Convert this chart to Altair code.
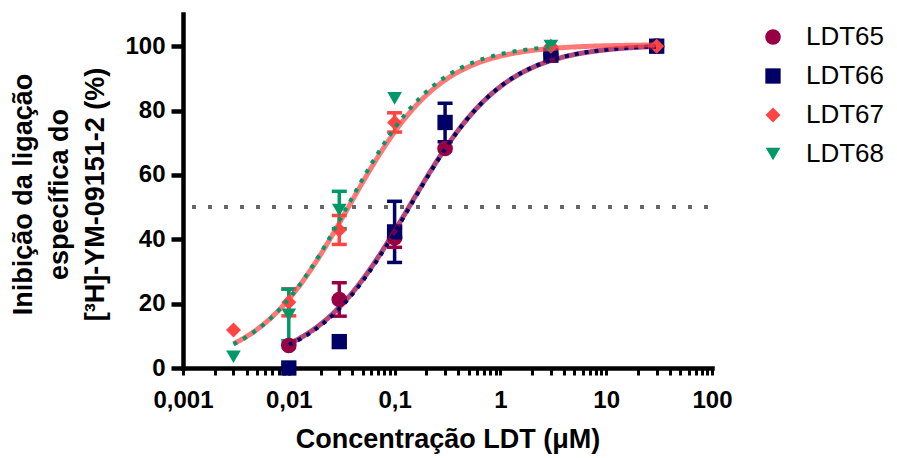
import math
import altair as alt
import pandas as pd

# Compounds, their colours and marker shapes
series = ["LDT65", "LDT66", "LDT67", "LDT68"]
colors = ["#990044", "#000066", "#ff4444", "#009966"]
shapes = ["circle", "square", "diamond", "triangle-down"]
sizes = [245, 215, 380, 250]

# Concentrations tested (µM)
conc = [0.003, 0.01, 0.03, 0.1, 0.3, 3, 30]

# Mean inhibition (%) and error per concentration (None = not tested)
ldt65_mean = [None, 7.0, 21.3, 40.5, 68.2, 97.5, 100.0]
ldt65_err = [0, 0, 5.2, 3.0, 0, 0, 0]
ldt66_mean = [None, 0.0, 8.2, 42.3, 76.3, 97.2, 100.0]
ldt66_err = [0, 0, 0, 9.5, 6.0, 0, 0]
ldt67_mean = [11.8, 20.4, 42.9, 76.3, None, 100.0, 100.0]
ldt67_err = [0, 4.2, 4.5, 3.0, 0, 0, 0]
ldt68_mean = [3.5, 16.5, 49.1, 83.8, None, 100.0, None]
ldt68_err = [0, 8.0, 5.8, 0, 0, 0, 0]

# Sigmoidal dose-response fit parameters
fit_bottom = [0.0, 0.0, 0.0, 0.0]
fit_top = [100.5, 100.5, 100.5, 100.8]
fit_ic50 = [0.138, 0.140, 0.037, 0.036]
fit_hill = [0.96, 0.97, 1.00, 1.02]
fit_start = [0.01, 0.01, 0.003, 0.003]
fit_end = [30, 30, 30, 3]

# Axes
x_min, x_max = 0.001, 100
decades = [0.001, 0.01, 0.1, 1, 10, 100]
decade_labels = ["0,001", "0,01", "0,1", "1", "10", "100"]
y_ticks = [0, 20, 40, 60, 80, 100]
half_line = 50

means = [ldt65_mean, ldt66_mean, ldt67_mean, ldt68_mean]
errs = [ldt65_err, ldt66_err, ldt67_err, ldt68_err]
rows = []
for name, m_list, e_list in zip(series, means, errs):
    for c, m, e in zip(conc, m_list, e_list):
        if m is not None:
            rows.append({"series": name, "conc": c, "mean": m, "err": e})
points = pd.DataFrame(rows)

x_ticks = []
for d in decades[:-1]:
    x_ticks.append(d)
    x_ticks.extend(d * k for k in range(2, 10))
x_ticks.append(decades[-1])

label_expr = "''"
for v, lab in reversed(list(zip(decades, decade_labels))):
    label_expr = f"datum.value == {v} ? '{lab}' : ({label_expr})"

x_scale = alt.Scale(type="log", domain=[x_min, x_max], nice=False)
y_scale = alt.Scale(domain=[0, 110], nice=False)
color_scale = alt.Scale(domain=series, range=colors)
shape_scale = alt.Scale(domain=series, range=shapes)
size_scale = alt.Scale(domain=series, range=sizes)

x_axis = alt.Axis(
    values=x_ticks, labelExpr=label_expr, title="Concentração LDT (μM)",
    tickSize=7, tickWidth=3, labelPadding=13, titleY=79,
    titleBaseline="alphabetic", labelFlush=False, labelOverlap=False,
)
y_axis = alt.Axis(
    values=y_ticks,
    title=["Inibição da ligação", "específica do", "[³H]-YM-09151-2 (%)"],
    tickSize=12, tickWidth=4.5, labelPadding=6, titleX=-173, titleY=180,
    titleBaseline="top", titleAlign="center", titleAngle=-90,
    titleLineHeight=36,
)

X = alt.X("conc:Q", scale=x_scale, axis=x_axis)
Y = alt.Y("mean:Q", scale=y_scale, axis=y_axis)

# Dotted line marking 50 % inhibition
ref_df = pd.DataFrame({"x": [x_min], "x2": [x_max], "y": [half_line]})
half = alt.Chart(ref_df).mark_rule(
    color="#666666", strokeWidth=4, strokeDash=[4, 12], strokeDashOffset=7
).encode(
    x=alt.X("x:Q", scale=x_scale, axis=x_axis),
    x2="x2:Q",
    y=alt.Y("y:Q", scale=y_scale, axis=y_axis),
)

# Error bars with caps
bars = alt.Chart(points).transform_filter("datum.err > 0").transform_calculate(
    lo="datum.mean - datum.err", hi="datum.mean + datum.err"
)
color_enc = alt.Color("series:N", scale=color_scale, title=None)
err_rule = bars.mark_rule(strokeWidth=3.5, opacity=1).encode(
    x=X, y=alt.Y("lo:Q", scale=y_scale, axis=y_axis), y2="hi:Q", color=color_enc
)
cap_lo = bars.mark_tick(orient="horizontal", size=15, thickness=3.5, opacity=1).encode(
    x=X, y=alt.Y("lo:Q", scale=y_scale, axis=y_axis), color=color_enc
)
cap_hi = bars.mark_tick(orient="horizontal", size=15, thickness=3.5, opacity=1).encode(
    x=X, y=alt.Y("hi:Q", scale=y_scale, axis=y_axis), color=color_enc
)

marks = alt.Chart(points).mark_point(filled=True, opacity=1, strokeWidth=0).encode(
    x=X, y=Y,
    color=color_enc,
    shape=alt.Shape("series:N", scale=shape_scale, title=None),
    size=alt.Size("series:N", scale=size_scale, title=None),
)

# Fitted dose-response curves
curve_styles = [
    dict(color="#990044", strokeWidth=5, opacity=0.72),
    dict(color="#000066", strokeWidth=4, strokeDash=[4, 6]),
    dict(color="#ff4444", strokeWidth=5, opacity=0.72),
    dict(color="#009966", strokeWidth=4, strokeDash=[4, 7]),
]
curves = []
for i in range(len(series)):
    lo_l = math.log10(fit_start[i])
    hi_l = math.log10(fit_end[i])
    expr = (
        f"{fit_bottom[i]} + ({fit_top[i]} - {fit_bottom[i]}) / "
        f"(1 + pow(10, ({math.log10(fit_ic50[i])} - datum.lx) * {fit_hill[i]}))"
    )
    c = alt.Chart(alt.sequence(lo_l, hi_l + 0.001, 0.01, as_="lx")).transform_calculate(
        conc="pow(10, datum.lx)", mean=expr
    ).mark_line(interpolate="monotone", **curve_styles[i]).encode(x=X, y=Y)
    curves.append(c)

chart = alt.layer(
    half, err_rule, cap_lo, cap_hi, marks, curves[0], curves[1], curves[2], curves[3]
).properties(
    width=529, height=354,
    autosize=alt.AutoSizeParams(type="none"),
    padding={"left": 183, "top": 14, "right": 185, "bottom": 90},
    background="white",
).configure_view(stroke=None).configure_axis(
    domainColor="black", domainWidth=4.5, domainCap="square",
    tickColor="black", grid=False,
    labelFont="Liberation Sans", labelFontWeight="bold", labelFontSize=24,
    labelColor="black",
    titleFont="Liberation Sans", titleFontWeight="bold", titleFontSize=27,
    titleColor="black",
).configure_legend(
    orient="none", legendX=577, legendY=10, padding=0,
    labelFont="Liberation Sans", labelFontSize=26, labelColor="black",
    labelOffset=20, rowPadding=13, symbolStrokeWidth=0, symbolOpacity=1,
)

chart.save("out.html", embed_options={"renderer": "svg", "actions": False})
